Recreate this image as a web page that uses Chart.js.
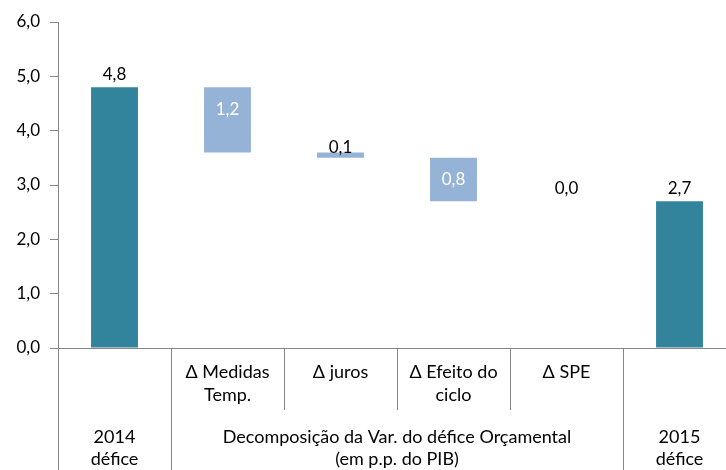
<!DOCTYPE html>
<html>
<head>
<meta charset="utf-8">
<script src="https://cdn.jsdelivr.net/npm/chart.js@4/dist/chart.umd.min.js"></script>
<style>
    html, body { margin: 0; padding: 0; background: #fff; overflow: hidden; }
</style>
</head>
<body>
<canvas id="deficeChart" width="736" height="470"></canvas>
<script>
// dados do gráfico (em % do PIB)
var categorias = ["2014 défice", "Δ Medidas Temp.", "Δ juros", "Δ Efeito do ciclo", "Δ SPE", "2015 défice"];
var rotulosNivel1 = [[], ["Δ Medidas", "Temp."], ["Δ juros"], ["Δ Efeito do", "ciclo"], ["Δ SPE"], []];
var grupoRotulos = [["2014", "défice"], ["Decomposição da Var. do défice Orçamental", "(em p.p. do PIB)"], ["2015", "défice"]];
var grupoInicio = [0, 1, 5];
var grupoFim = [0, 4, 5];
var barraBase = [0, 3.6, 3.5, 2.7, 2.7, 0];
var barraTopo = [4.8, 4.8, 3.6, 3.5, 2.7, 2.7];
var tipoBarra = ["total", "variacao", "variacao", "variacao", "variacao", "total"];
var yTicks = [0, 1, 2, 3, 4, 5, 6];

var corTotal = "#31849b";
var corVariacao = "#95b3d7";
var corLinha = "#868686";
var fonte = "Lato";

function virgula(v) {
    return v.toFixed(1).replace(".", ",");
}

// fronteira esquerda da categoria i
function fronteira(chart, i) {
    var x = chart.scales.x;
    var area = chart.chartArea;
    if (i <= 0) return area.left;
    if (i >= categorias.length) return area.right;
    return (x.getPixelForValue(i - 1) + x.getPixelForValue(i)) / 2;
}

var rotulosPlugin = {
    id: "rotulosValor",
    afterDatasetsDraw: function (chart) {
        var ctx = chart.ctx;
        var meta = chart.getDatasetMeta(0);
        ctx.save();
        ctx.font = "17px " + fonte;
        ctx.textAlign = "center";
        ctx.textBaseline = "middle";
        meta.data.forEach(function (el, i) {
            var texto = virgula(barraTopo[i] - barraBase[i]);
            var topo = Math.min(el.y, el.base);
            var altura = Math.abs(el.base - el.y);
            var y;
            if (tipoBarra[i] === "total" || altura < 1) {
                ctx.fillStyle = "#000";
                y = topo - 13;
            } else if (altura < 30) {
                ctx.fillStyle = "#000";
                y = topo - 5;
            } else {
                ctx.fillStyle = "#fff";
                y = topo + 22;
            }
            ctx.fillText(texto, el.x, y);
        });
        ctx.restore();
    },
};

var tabelaPlugin = {
    id: "tabelaCategorias",
    afterDraw: function (chart) {
        var ctx = chart.ctx;
        var x = chart.scales.x;
        var zero = chart.scales.y.getPixelForValue(0);
        var fundo = chart.height;
        ctx.save();
        ctx.strokeStyle = corLinha;
        ctx.lineWidth = 1;
        // linhas verticais
        for (var k = 0; k <= categorias.length; k++) {
            var ehGrupo = grupoInicio.indexOf(k) >= 0 || k === categorias.length;
            var px = Math.round(fronteira(chart, k)) + 0.5;
            ctx.beginPath();
            ctx.moveTo(px, zero);
            ctx.lineTo(px, ehGrupo ? fundo : zero + 62);
            ctx.stroke();
        }
        ctx.font = "18px " + fonte;
        ctx.fillStyle = "#000";
        ctx.textAlign = "center";
        ctx.textBaseline = "middle";
        // nível 1
        rotulosNivel1.forEach(function (linhas, i) {
            var cx = x.getPixelForValue(i);
            linhas.forEach(function (t, j) {
                ctx.fillText(t, cx, zero + 24 + j * 23);
            });
        });
        // nível 2
        grupoRotulos.forEach(function (linhas, g) {
            var cx = (fronteira(chart, grupoInicio[g]) + fronteira(chart, grupoFim[g] + 1)) / 2;
            linhas.forEach(function (t, j) {
                ctx.fillText(t, cx, zero + 89 + j * 22);
            });
        });
        ctx.restore();
    },
};

var ctx = document.getElementById("deficeChart").getContext("2d");
var deficeChart = new Chart(ctx, {
    type: "bar",
    data: {
        labels: categorias,
        datasets: [
            {
                data: barraBase.map(function (b, i) { return [b, barraTopo[i]]; }),
                backgroundColor: tipoBarra.map(function (t) { return t === "total" ? corTotal : corVariacao; }),
                borderWidth: 0,
                borderSkipped: false,
                barPercentage: 0.415,
                categoryPercentage: 1,
            },
        ],
    },
    options: {
        responsive: false,
        animation: false,
        layout: { padding: { top: 22, right: 0, left: 0, bottom: 0 } },
        plugins: {
            legend: { display: false },
            tooltip: { enabled: false },
        },
        scales: {
            x: {
                grid: { display: false },
                border: { display: true, color: corLinha },
                ticks: { display: false },
                afterFit: function (scale) { scale.height = 122; },
            },
            y: {
                min: 0,
                max: 6,
                afterBuildTicks: function (scale) {
                    scale.ticks = yTicks.map(function (v) { return { value: v }; });
                },
                grid: {
                    drawOnChartArea: false,
                    drawTicks: true,
                    tickLength: 8,
                    color: corLinha,
                },
                border: { display: true, color: corLinha },
                ticks: {
                    padding: 10,
                    color: "#000",
                    font: { size: 17, family: fonte },
                    callback: function (v) { return virgula(v); },
                },
                afterFit: function (scale) { scale.width = 58; },
            },
        },
    },
    plugins: [rotulosPlugin, tabelaPlugin],
});
</script>
</body>
</html>
